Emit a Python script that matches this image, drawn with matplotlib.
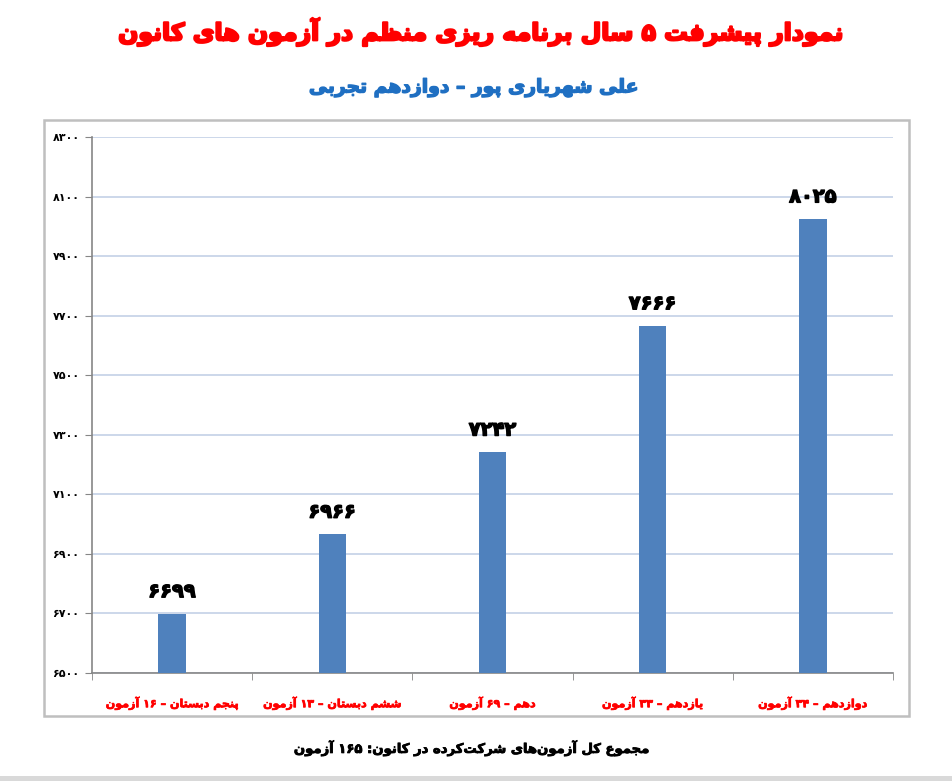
# Kanoon 5-year progress bar chart (Persian text shaped by hand)

import matplotlib
matplotlib.use("Agg")
import matplotlib.pyplot as plt
import matplotlib.patheffects as pe
from matplotlib.patches import Rectangle
import numpy as np

title = "نمودار پیشرفت ۵ سال برنامه ریزی منظم در آزمون های کانون"
subtitle = "علی شهریاری پور – دوازدهم تجربی"
footer = "مجموع کل آزمون\u200cهای شرکت\u200cکرده در کانون: ۱۶۵ آزمون"

categories = ["پنجم دبستان – ۱۶ آزمون",
              "ششم دبستان – ۱۳ آزمون",
              "دهم – ۶۹ آزمون",
              "یازدهم – ۳۳ آزمون",
              "دوازدهم – ۳۴ آزمون"]
scores = [6699, 6966, 7242, 7666, 8025]
yticks = list(range(6500, 8301, 200))

# presentation forms: isolated, final, initial, medial
FORMS = {
    'ا': (0xFE8D, 0xFE8E), 'آ': (0xFE81, 0xFE82),
    'ب': (0xFE8F, 0xFE90, 0xFE91, 0xFE92), 'پ': (0xFB56, 0xFB57, 0xFB58, 0xFB59),
    'ت': (0xFE95, 0xFE96, 0xFE97, 0xFE98), 'ث': (0xFE99, 0xFE9A, 0xFE9B, 0xFE9C),
    'ج': (0xFE9D, 0xFE9E, 0xFE9F, 0xFEA0), 'چ': (0xFB7A, 0xFB7B, 0xFB7C, 0xFB7D),
    'ح': (0xFEA1, 0xFEA2, 0xFEA3, 0xFEA4), 'خ': (0xFEA5, 0xFEA6, 0xFEA7, 0xFEA8),
    'د': (0xFEA9, 0xFEAA), 'ذ': (0xFEAB, 0xFEAC), 'ر': (0xFEAD, 0xFEAE),
    'ز': (0xFEAF, 0xFEB0), 'ژ': (0xFB8A, 0xFB8B),
    'س': (0xFEB1, 0xFEB2, 0xFEB3, 0xFEB4), 'ش': (0xFEB5, 0xFEB6, 0xFEB7, 0xFEB8),
    'ص': (0xFEB9, 0xFEBA, 0xFEBB, 0xFEBC), 'ض': (0xFEBD, 0xFEBE, 0xFEBF, 0xFEC0),
    'ط': (0xFEC1, 0xFEC2, 0xFEC3, 0xFEC4), 'ظ': (0xFEC5, 0xFEC6, 0xFEC7, 0xFEC8),
    'ع': (0xFEC9, 0xFECA, 0xFECB, 0xFECC), 'غ': (0xFECD, 0xFECE, 0xFECF, 0xFED0),
    'ف': (0xFED1, 0xFED2, 0xFED3, 0xFED4), 'ق': (0xFED5, 0xFED6, 0xFED7, 0xFED8),
    'ک': (0xFB8E, 0xFB8F, 0xFB90, 0xFB91), 'گ': (0xFB92, 0xFB93, 0xFB94, 0xFB95),
    'ل': (0xFEDD, 0xFEDE, 0xFEDF, 0xFEE0), 'م': (0xFEE1, 0xFEE2, 0xFEE3, 0xFEE4),
    'ن': (0xFEE5, 0xFEE6, 0xFEE7, 0xFEE8), 'و': (0xFEED, 0xFEEE),
    'ه': (0xFEE9, 0xFEEA, 0xFEEB, 0xFEEC), 'ی': (0xFBFC, 0xFBFD, 0xFBFE, 0xFBFF),
}
DIGITS = "۰۱۲۳۴۵۶۷۸۹0123456789"


def fa(text):
    out = []
    for i, ch in enumerate(text):
        if ch not in FORMS:
            if ch != '\u200c':
                out.append(ch)
            continue
        f = FORMS[ch]
        prev = text[i - 1] if i > 0 else ''
        nxt = text[i + 1] if i + 1 < len(text) else ''
        jp = prev in FORMS and len(FORMS[prev]) == 4
        jn = len(f) == 4 and nxt in FORMS
        if jp and jn:
            code = f[3]
        elif jp:
            code = f[1]
        elif jn:
            code = f[2]
        else:
            code = f[0]
        out.append(chr(code))
    s = ''.join(out)[::-1]
    # keep digit runs left to right
    res, run = [], []
    for ch in s:
        if ch in DIGITS:
            run.append(ch)
        else:
            res.extend(run[::-1])
            run = []
            res.append(ch)
    res.extend(run[::-1])
    return ''.join(res)


def fa_num(n):
    return str(n).translate(str.maketrans("0123456789", "۰۱۲۳۴۵۶۷۸۹"))


def heavy(color, w):
    # fake the very heavy Titr-like weight of the original
    return [pe.withStroke(linewidth=w, foreground=color)]


plt.rcParams['font.family'] = ['DejaVu Sans']
plt.rcParams['font.weight'] = 'bold'

fig = plt.figure(figsize=(9.52, 7.81), dpi=100)

# outer chart frame
fig.patches.append(Rectangle((44 / 952, 1 - 716 / 781), 865 / 952, 596 / 781,
                             transform=fig.transFigure, fill=False,
                             edgecolor='#bfbfbf', linewidth=1.8, zorder=0))
# grey strip at the very bottom
fig.patches.append(Rectangle((0, 0), 1, 5 / 781, transform=fig.transFigure,
                             facecolor='#d9d9d9', edgecolor='none'))

ax = fig.add_axes([92 / 952, 1 - 673 / 781, 801 / 952, 536 / 781])
x = np.arange(len(scores))
ax.bar(x, scores, width=0.17, color='#4f81bd', zorder=3)
ax.set_xlim(-0.5, len(scores) - 0.5)
ax.set_ylim(6500, 8300)

for xi, v in zip(x, scores):
    ax.annotate(fa_num(v), (xi, v), xytext=(0, 9), textcoords='offset points',
                ha='center', va='bottom', fontsize=14, fontweight='bold', color='black',
                path_effects=heavy('black', 1.0))

ax.set_yticks(yticks)
ax.set_yticklabels([fa_num(t) for t in yticks], fontsize=8, fontweight='bold')
ax.set_xticks(x)
ax.set_xticklabels([fa(c) for c in categories], fontsize=8, fontweight='bold', color='red')
for lab in ax.get_xticklabels():
    lab.set_path_effects(heavy('red', 0.5))
ax.set_xticks(np.arange(-0.5, len(scores)), minor=True)
ax.tick_params(axis='x', which='major', length=0, pad=17)
ax.tick_params(axis='x', which='minor', length=5, color='#868686')
ax.tick_params(axis='y', length=5, color='#868686', pad=4)

ax.grid(axis='y', color='#c3d1e6', linewidth=1.2, zorder=0)
for side in ['top', 'right']:
    ax.spines[side].set_visible(False)
for side in ['left', 'bottom']:
    ax.spines[side].set_color('#868686')
    ax.spines[side].set_linewidth(1.2)

fig.text(481 / 952, 1 - 32 / 781, fa(title), ha='center', va='center',
         fontsize=17, fontweight='bold', color='#ff0000',
         path_effects=heavy('#ff0000', 1.6))
fig.text(474 / 952, 1 - 88 / 781, fa(subtitle), ha='center', va='center',
         fontsize=13.5, fontweight='bold', color='#1f6fc2',
         path_effects=heavy('#1f6fc2', 1.0))
fig.text(473 / 952, 1 - 748 / 781, fa(footer), ha='center', va='center',
         fontsize=9.5, fontweight='bold', color='black',
         path_effects=heavy('black', 0.6))

fig.savefig("out.png", dpi=100)
